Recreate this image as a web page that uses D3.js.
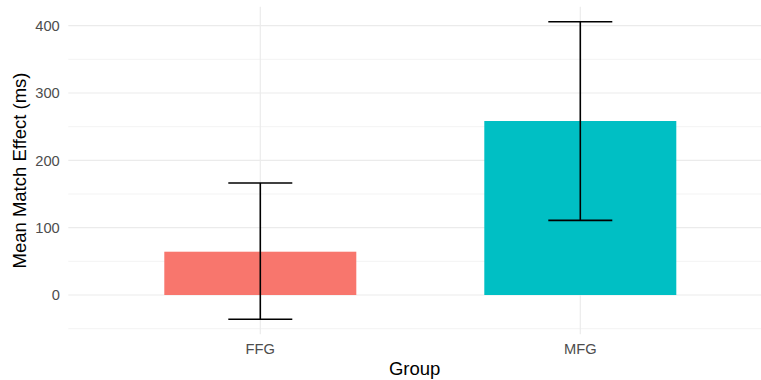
<!DOCTYPE html>
<html>
<head>
<meta charset="utf-8">
<script src="https://cdn.jsdelivr.net/npm/d3@7"></script>
<style>
  html, body { margin: 0; padding: 0; background: #fff; }
  svg { display: block; }
  text { font-family: "Liberation Sans", Arial, sans-serif; }
</style>
</head>
<body>
<svg id="chart" width="761" height="380"></svg>
<script>
// Data
const groups = ["FFG", "MFG"];
const means = [64.3, 258.4];
const errLow = [-36.1, 110.9];
const errHigh = [166.3, 405.9];
const colors = ["#F8766D", "#00BFC4"];
const yTicks = [0, 100, 200, 300, 400];
const yMinor = [-50, 50, 150, 250, 350];

const W = 761, H = 380;
const margin = { left: 68.3, top: 6.8, bottom: 45.8 };
const svg = d3.select("#chart");

// x: discrete positions 1..n with ggplot-style 0.6 expansion
const xPos = d3.scaleLinear().domain([0.4, groups.length + 0.6]).range([margin.left, margin.left + 320 * (groups.length + 0.2)]);
const dataMin = d3.min(errLow.concat([0])), dataMax = d3.max(errHigh);
const pad = (dataMax - dataMin) * 0.05;
const y = d3.scaleLinear().domain([dataMin - pad, dataMax + pad]).range([H - margin.bottom, margin.top]);

const panelTop = margin.top, panelBottom = H - margin.bottom;
const panelRight = W;

// Grid
const grid = svg.append("g");
grid.selectAll("line.minor").data(yMinor).enter().append("line")
  .attr("x1", margin.left).attr("x2", panelRight)
  .attr("y1", d => y(d)).attr("y2", d => y(d))
  .attr("stroke", "#EBEBEB").attr("stroke-width", 0.6);
grid.selectAll("line.major").data(yTicks).enter().append("line")
  .attr("x1", margin.left).attr("x2", panelRight)
  .attr("y1", d => y(d)).attr("y2", d => y(d))
  .attr("stroke", "#EBEBEB").attr("stroke-width", 1.2);
grid.selectAll("line.vmajor").data(groups).enter().append("line")
  .attr("x1", (d, i) => xPos(i + 1)).attr("x2", (d, i) => xPos(i + 1))
  .attr("y1", panelTop).attr("y2", panelBottom)
  .attr("stroke", "#EBEBEB").attr("stroke-width", 1.2);

// Bars
const barW = 0.6;
svg.selectAll("rect.bar").data(means).enter().append("rect")
  .attr("x", (d, i) => xPos(i + 1 - barW / 2))
  .attr("width", (d, i) => xPos(i + 1 + barW / 2) - xPos(i + 1 - barW / 2))
  .attr("y", d => y(Math.max(d, 0)))
  .attr("height", d => Math.abs(y(d) - y(0)))
  .attr("fill", (d, i) => colors[i]);

// Error bars
const capW = 0.2;
const eb = svg.append("g").attr("stroke", "#000").attr("stroke-width", 1.6).attr("fill", "none");
groups.forEach((g, i) => {
  const cx = xPos(i + 1);
  eb.append("line").attr("x1", cx).attr("x2", cx).attr("y1", y(errLow[i])).attr("y2", y(errHigh[i]));
  [errLow[i], errHigh[i]].forEach(v => {
    eb.append("line")
      .attr("x1", xPos(i + 1 - capW / 2)).attr("x2", xPos(i + 1 + capW / 2))
      .attr("y1", y(v)).attr("y2", y(v));
  });
});

// Y tick labels
svg.selectAll("text.ytick").data(yTicks).enter().append("text")
  .attr("x", margin.left - 8.5).attr("y", d => y(d))
  .attr("dy", "0.36em").attr("text-anchor", "end")
  .attr("font-size", 14.7).attr("fill", "#4D4D4D")
  .text(d => d);

// X tick labels
svg.selectAll("text.xtick").data(groups).enter().append("text")
  .attr("x", (d, i) => xPos(i + 1)).attr("y", panelBottom + 20)
  .attr("text-anchor", "middle")
  .attr("font-size", 14.7).attr("fill", "#4D4D4D")
  .text(d => d);

// Axis titles
svg.append("text")
  .attr("x", (margin.left + panelRight) / 2).attr("y", 375)
  .attr("text-anchor", "middle").attr("font-size", 18.5).attr("fill", "#000")
  .text("Group");
svg.append("text")
  .attr("transform", `translate(26, ${(panelTop + panelBottom) / 2}) rotate(-90)`)
  .attr("text-anchor", "middle").attr("font-size", 18.5).attr("fill", "#000")
  .text("Mean Match Effect (ms)");
</script>
</body>
</html>
